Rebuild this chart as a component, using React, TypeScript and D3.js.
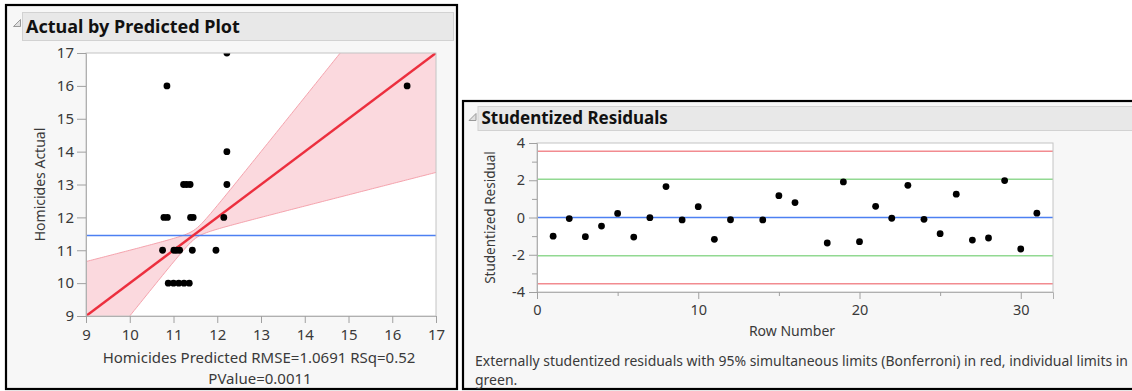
import React, { useRef, useEffect } from "react"
import * as d3 from "d3"

// actual by predicted points
const predicted = [
  10.85, 12.22, 16.34, 12.22, 12.22, 11.23, 11.3, 11.38, 10.78, 10.86, 11.39, 11.45,
  12.15, 10.75, 11.01, 11.07, 11.14, 11.43, 11.97, 10.88, 11.0, 11.12, 11.24, 11.36,
]
const actual = [
  16, 17, 16, 14, 13, 13, 13, 13, 12, 12, 12, 12, 12, 11, 11, 11, 11, 11, 11, 10, 10,
  10, 10, 10,
]
const apTicks = [9, 10, 11, 12, 13, 14, 15, 16, 17]
const meanActual = 11.45
const fitIntercept = 0
const fitSlope = 1
// confidence curve of the fit
const bandCenter = 11.5
const bandMinHalf = 0.14
const bandSpread = 0.66

// studentized residuals
const rowNumbers = [
  1, 2, 3, 4, 5, 6, 7, 8, 9, 10, 11, 12, 14, 15, 16, 18, 19, 20, 21, 22, 23, 24, 25, 26,
  27, 28, 29, 30, 31,
]
const residuals = [
  -1.0, -0.06, -1.03, -0.46, 0.22, -1.05, -0.01, 1.66, -0.13, 0.58, -1.17, -0.12, -0.13,
  1.17, 0.8, -1.37, 1.91, -1.3, 0.6, -0.04, 1.73, -0.1, -0.87, 1.25, -1.21, -1.1, 1.98,
  -1.69, 0.23,
]
const bonferroniLimit = 3.56
const individualLimit = 2.05
const resYTicks = [-4, -3, -2, -1, 0, 1, 2, 3, 4]
const resXTicks = [0, 5, 10, 15, 20, 25, 30]

const FONT = "'Noto Sans', 'Open Sans', sans-serif"

function App() {
  const ref = useRef<SVGSVGElement>(null)

  useEffect(() => {
    document.body.style.margin = "0"
    const svg = d3.select(ref.current)
    svg.selectAll("*").remove()
    svg.style("font-family", FONT)

    drawPanel(svg, 6, 5, 451, 384, "Actual by Predicted Plot", 22.5, 12.5, 431, 28, 18)
    drawPanel(svg, 463, 101, 700, 288, "Studentized Residuals", 478, 106.5, 700, 24, 17)

    drawActualByPredicted(svg)
    drawResiduals(svg)
  }, [])

  function drawPanel(svg, x, y, w, h, title, tx, ty, tw, th, fs) {
    svg
      .append("rect")
      .attr("x", x)
      .attr("y", y)
      .attr("width", w)
      .attr("height", h)
      .attr("fill", "#f7f7f7")
      .attr("stroke", "#000")
      .attr("stroke-width", 2.2)
    svg
      .append("rect")
      .attr("x", tx)
      .attr("y", ty)
      .attr("width", tw)
      .attr("height", th)
      .attr("fill", "#e8e8e8")
      .attr("stroke", "#d2d2d2")
    svg
      .append("path")
      .attr("d", `M${tx - 2},${ty + 7} L${tx - 2},${ty + 14} L${tx - 9},${ty + 14} Z`)
      .attr("fill", "#e0e0e0")
      .attr("stroke", "#9a9a9a")
    svg
      .append("text")
      .attr("x", tx + 3.5)
      .attr("y", ty + th / 2)
      .attr("dy", "0.35em")
      .style("font-size", fs + "px")
      .style("font-weight", "bold")
      .attr("fill", "#111")
      .text(title)
  }

  function drawActualByPredicted(svg) {
    const left = 86,
      right = 436,
      top = 53,
      bottom = 316
    const x = d3.scaleLinear().domain([9, 17]).range([left, right])
    const y = d3.scaleLinear().domain([9, 17]).range([bottom, top])

    svg
      .append("defs")
      .append("clipPath")
      .attr("id", "apClip")
      .append("rect")
      .attr("x", left)
      .attr("y", top)
      .attr("width", right - left)
      .attr("height", bottom - top)

    svg
      .append("rect")
      .attr("x", left)
      .attr("y", top)
      .attr("width", right - left)
      .attr("height", bottom - top)
      .attr("fill", "#fff")

    const plot = svg.append("g").attr("clip-path", "url(#apClip)")

    const halfWidth = v => Math.sqrt(bandMinHalf ** 2 + bandSpread ** 2 * (v - bandCenter) ** 2)
    const fit = v => fitIntercept + fitSlope * v
    const xs = d3.range(9, 17.001, 0.05)

    const area = d3
      .area<number>()
      .x(d => x(d))
      .y0(d => y(fit(d) - halfWidth(d)))
      .y1(d => y(fit(d) + halfWidth(d)))
    plot.append("path").datum(xs).attr("d", area).attr("fill", "#fbd9de")

    const edge = sign =>
      d3
        .line<number>()
        .x(d => x(d))
        .y(d => y(fit(d) + sign * halfWidth(d)))
    ;[1, -1].forEach(s => {
      plot
        .append("path")
        .datum(xs)
        .attr("d", edge(s))
        .attr("fill", "none")
        .attr("stroke", "#f5a3ad")
        .attr("stroke-width", 1)
    })

    plot
      .append("line")
      .attr("x1", left)
      .attr("x2", right)
      .attr("y1", y(meanActual))
      .attr("y2", y(meanActual))
      .attr("stroke", "#4d80f2")
      .attr("stroke-width", 1.5)

    plot
      .append("line")
      .attr("x1", x(9))
      .attr("x2", x(17))
      .attr("y1", y(fit(9)))
      .attr("y2", y(fit(17)))
      .attr("stroke", "#ec2f3e")
      .attr("stroke-width", 2.5)

    plot
      .selectAll("circle")
      .data(predicted)
      .join("circle")
      .attr("cx", d => x(d))
      .attr("cy", (d, i) => y(actual[i]))
      .attr("r", 3.4)
      .attr("fill", "#000")

    svg
      .append("rect")
      .attr("x", left)
      .attr("y", top)
      .attr("width", right - left)
      .attr("height", bottom - top)
      .attr("fill", "none")
      .attr("stroke", "#c4c4c4")

    const yAxis = svg
      .append("g")
      .attr("transform", `translate(${left},0)`)
      .call(d3.axisLeft(y).tickValues(apTicks).tickSize(9).tickPadding(3))
    const xAxis = svg
      .append("g")
      .attr("transform", `translate(0,${bottom})`)
      .call(d3.axisBottom(x).tickValues(apTicks).tickSize(7).tickPadding(6))
    ;[yAxis, xAxis].forEach(a => {
      a.select(".domain").attr("stroke", "#b0b0b0")
      a.selectAll("line").attr("stroke", "#a0a0a0")
      a.selectAll("text")
        .style("font-size", "15px")
        .style("font-family", FONT)
        .attr("fill", "#3a3a3a")
    })

    svg
      .append("text")
      .attr("transform", `translate(45,${(top + bottom) / 2}) rotate(-90)`)
      .attr("text-anchor", "middle")
      .style("font-size", "14px")
      .attr("fill", "#3a3a3a")
      .text("Homicides Actual")

    svg
      .append("text")
      .attr("x", 259)
      .attr("y", 363)
      .attr("text-anchor", "middle")
      .style("font-size", "15px")
      .attr("fill", "#3a3a3a")
      .text("Homicides Predicted RMSE=1.0691 RSq=0.52")
    svg
      .append("text")
      .attr("x", 260)
      .attr("y", 384)
      .attr("text-anchor", "middle")
      .style("font-size", "15px")
      .attr("fill", "#3a3a3a")
      .text("PValue=0.0011")
  }

  function drawResiduals(svg) {
    const left = 537,
      right = 1053,
      top = 143,
      bottom = 292
    const x = d3.scaleLinear().domain([0, 32]).range([left, right])
    const y = d3.scaleLinear().domain([-4, 4]).range([bottom, top])

    svg
      .append("rect")
      .attr("x", left)
      .attr("y", top)
      .attr("width", right - left)
      .attr("height", bottom - top)
      .attr("fill", "#fff")

    const limitLines = [
      { v: bonferroniLimit, c: "#f28b90" },
      { v: -bonferroniLimit, c: "#f28b90" },
      { v: individualLimit, c: "#92d992" },
      { v: -individualLimit, c: "#92d992" },
      { v: 0, c: "#4d80f2" },
    ]
    svg
      .append("g")
      .selectAll("line")
      .data(limitLines)
      .join("line")
      .attr("x1", left)
      .attr("x2", right)
      .attr("y1", d => y(d.v))
      .attr("y2", d => y(d.v))
      .attr("stroke", d => d.c)
      .attr("stroke-width", 1.6)

    svg
      .append("g")
      .selectAll("circle")
      .data(residuals)
      .join("circle")
      .attr("cx", (d, i) => x(rowNumbers[i]))
      .attr("cy", d => y(d))
      .attr("r", 3.4)
      .attr("fill", "#000")

    svg
      .append("rect")
      .attr("x", left)
      .attr("y", top)
      .attr("width", right - left)
      .attr("height", bottom - top)
      .attr("fill", "none")
      .attr("stroke", "#c4c4c4")

    const yAxis = svg
      .append("g")
      .attr("transform", `translate(${left},0)`)
      .call(
        d3
          .axisLeft(y)
          .tickValues(resYTicks)
          .tickSize(8)
          .tickPadding(4)
          .tickFormat(d => (Number(d) % 2 === 0 ? String(d) : ""))
      )
    yAxis
      .selectAll(".tick")
      .filter(d => Number(d) % 2 !== 0)
      .select("line")
      .attr("x2", -5)
    const xAxis = svg
      .append("g")
      .attr("transform", `translate(0,${bottom})`)
      .call(
        d3
          .axisBottom(x)
          .tickValues(resXTicks)
          .tickSize(7)
          .tickPadding(6)
          .tickFormat(d => (Number(d) % 10 === 0 ? String(d) : ""))
      )
    xAxis
      .selectAll(".tick")
      .filter(d => Number(d) % 10 !== 0)
      .select("line")
      .attr("y2", 4)
    ;[yAxis, xAxis].forEach(a => {
      a.select(".domain").attr("stroke", "#b0b0b0")
      a.selectAll("line").attr("stroke", "#a0a0a0")
      a.selectAll("text")
        .style("font-size", "14.5px")
        .style("font-family", FONT)
        .attr("fill", "#3a3a3a")
    })

    svg
      .append("text")
      .attr("transform", `translate(495,${(top + bottom) / 2}) rotate(-90)`)
      .attr("text-anchor", "middle")
      .style("font-size", "13.5px")
      .attr("fill", "#3a3a3a")
      .text("Studentized Residual")

    svg
      .append("text")
      .attr("x", 792)
      .attr("y", 336)
      .attr("text-anchor", "middle")
      .style("font-size", "14px")
      .attr("fill", "#3a3a3a")
      .text("Row Number")

    svg
      .append("text")
      .attr("x", 475)
      .attr("y", 366)
      .attr("textLength", 653)
      .attr("lengthAdjust", "spacingAndGlyphs")
      .style("font-size", "14px")
      .attr("fill", "#3a3a3a")
      .text(
        "Externally studentized residuals with 95% simultaneous limits (Bonferroni) in red, individual limits in"
      )
    svg
      .append("text")
      .attr("x", 475)
      .attr("y", 385)
      .style("font-size", "14px")
      .attr("fill", "#3a3a3a")
      .text("green.")
  }

  return (
    <div style={{ position: "absolute", left: 0, top: 0 }}>
      <svg ref={ref} width={1132} height={391} style={{ display: "block" }}></svg>
    </div>
  )
}

export default App
